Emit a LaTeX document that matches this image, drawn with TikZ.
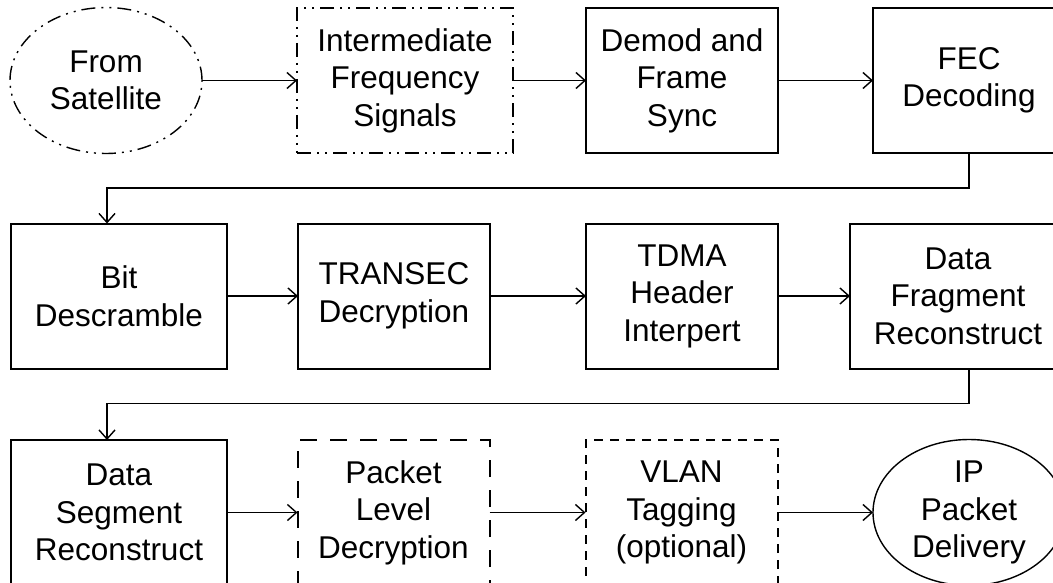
\documentclass[tikz,border=0pt]{standalone}
\usepackage{fontspec}
\setmainfont{Liberation Sans}
\usetikzlibrary{shapes.geometric,arrows.meta}
\begin{document}
\begin{tikzpicture}[x=1pt,y=-1pt,
  every node/.style={font=\fontsize{31.5}{37.5}\selectfont, align=center, inner sep=0pt, outer sep=0pt},
  blk/.style={draw, line width=2pt, minimum height=145pt},
  wnarrow/.style={minimum width=192pt},
  wwide/.style={minimum width=216pt},
  oval/.style={ellipse, draw, line width=1.4pt, minimum width=192pt, minimum height=146pt, inner ysep=-20pt, inner xsep=-10pt},
  flow/.style={line width=1.4pt, -{Straight Barb[length=9pt,width=16pt]}},
  dashdotdot/.style={dash pattern=on 14pt off 6pt on 2pt off 6pt on 2pt off 6pt},
  longdash/.style={dash pattern=on 17pt off 13pt},
  shortdash/.style={dash pattern=on 9pt off 7pt}]

\useasboundingbox (0,0) rectangle (1053,583);
\clip (0,0) rectangle (1053,583);

% first row
\node[oval, dashdotdot] (sat) at (106,80.5) {From\\Satellite};
\node[blk, wwide, dashdotdot] (ifs) at (405,80.5) {Intermediate\\Frequency\\Signals};
\node[blk, wnarrow] (demod) at (682,80.5) {Demod and\\Frame\\Sync};
\node[blk, wnarrow] (fec) at (969,80.5) {FEC\\Decoding};

% second row
\node[blk, wwide] (bit) at (119,296) {Bit\\Descramble};
\node[blk, wnarrow] (transec) at (394,296) {TRANSEC\\Decryption};
\node[blk, wnarrow] (tdma) at (682,296) {TDMA\\Header\\Interpert};
\node[blk, wwide] (frag) at (958,296) {Data\\Fragment\\Reconstruct};

% third row
\node[blk, wwide] (seg) at (119,512.5) {Data\\Segment\\Reconstruct};
\node[blk, wnarrow, longdash] (pld) at (393.5,512.5) {Packet\\Level\\Decryption};
\node[blk, wnarrow, shortdash] (vlan) at (681.5,512.5) {VLAN\\Tagging\\(optional)};
\node[oval] (ip) at (969,512.5) {IP\\Packet\\Delivery};

% connectors
\draw[flow] (sat.east) -- (ifs.west);
\draw[flow] (ifs.east) -- (demod.west);
\draw[flow] (demod.east) -- (fec.west);
\draw[flow] (fec.south) -- ++(0,35) -| ([xshift=-12pt]bit.north);
\draw[flow] (bit.east) -- (transec.west);
\draw[flow] (transec.east) -- (tdma.west);
\draw[flow] (tdma.east) -- (frag.west);
\draw[flow] ([xshift=11pt]frag.south) -- ++(0,35) -| ([xshift=-12pt]seg.north);
\draw[flow] (seg.east) -- (pld.west);
\draw[flow] (pld.east) -- (vlan.west);
\draw[flow] (vlan.east) -- (ip.west);
\end{tikzpicture}
\end{document}
